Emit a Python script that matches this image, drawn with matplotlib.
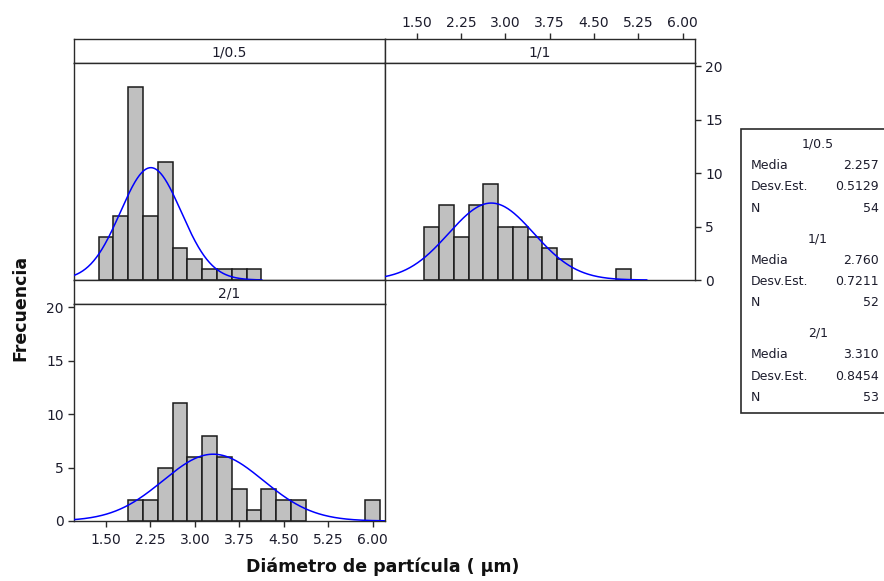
import numpy as np
import matplotlib
matplotlib.use("Agg")
import matplotlib.pyplot as plt

# Bin centres and counts per group (bin width 0.25 µm)
bin_width = 0.25
centers_05 = [1.50, 1.75, 2.00, 2.25, 2.50, 2.75, 3.00, 3.25, 3.50, 3.75, 4.00]
counts_05 = [4, 6, 18, 6, 11, 3, 2, 1, 1, 1, 1]

centers_11 = [1.75, 2.00, 2.25, 2.50, 2.75, 3.00, 3.25, 3.50, 3.75, 4.00, 5.00]
counts_11 = [5, 7, 4, 7, 9, 5, 5, 4, 3, 2, 1]

centers_21 = [2.00, 2.25, 2.50, 2.75, 3.00, 3.25, 3.50, 3.75, 4.00, 4.25, 4.50, 4.75, 6.00]
counts_21 = [2, 2, 5, 11, 6, 8, 6, 3, 1, 3, 2, 2, 2]

groups = ["1/0.5", "1/1", "2/1"]
means = [2.257, 2.760, 3.310]
sds = [0.5129, 0.7211, 0.8454]
ns = [54, 52, 53]

x_ticks = [1.50, 2.25, 3.00, 3.75, 4.50, 5.25, 6.00]
x_ticklabels = ["1.50", "2.25", "3.00", "3.75", "4.50", "5.25", "6.00"]
y_ticks = [0, 5, 10, 15, 20]

W, H = 884, 581
fig = plt.figure(figsize=(W / 100, H / 100), dpi=100)
plt.rcParams["font.family"] = ["DejaVu Sans"]

XLIM = (0.96, 6.21)
YLIM = (0, 20.31)
FRAME = "#2a2a2a"
TXT = "#1c1c2c"
LW = 1.0


def px_axes(x0, y0, x1, y1):
    return fig.add_axes([x0 / W, 1 - y1 / H, (x1 - x0) / W, (y1 - y0) / H])


def style_frame(ax):
    for s in ax.spines.values():
        s.set_color(FRAME)
        s.set_linewidth(LW)
    ax.tick_params(colors=FRAME, labelcolor=TXT, labelsize=10,
                   length=4.5, width=LW, direction="out")


def strip(x0, y0, x1, y1, label):
    sax = px_axes(x0, y0, x1, y1)
    sax.set_xlim(*XLIM)
    sax.set_ylim(0, 1)
    sax.set_yticks([])
    sax.set_xticks([])
    style_frame(sax)
    sax.text(0.5, 0.45, label, transform=sax.transAxes, ha="center",
             va="center", fontsize=10, color=TXT)
    return sax


def panel(x0, y0, x1, y1, centers, counts, mean, sd, n):
    ax = px_axes(x0, y0, x1, y1)
    ax.bar(centers, counts, width=bin_width, color="#c0c0c0",
           edgecolor="#1a1a1a", linewidth=1.1, zorder=2)
    xs = np.linspace(mean - 3.65 * sd, mean + 3.65 * sd, 400)
    ys = n * bin_width / (sd * np.sqrt(2 * np.pi)) * np.exp(-0.5 * ((xs - mean) / sd) ** 2)
    ax.plot(xs, ys, color="#0000ff", linewidth=1.1, zorder=3)
    ax.set_xlim(*XLIM)
    ax.set_ylim(*YLIM)
    ax.set_xticks([])
    ax.set_yticks([])
    style_frame(ax)
    return ax


L0, L1, R1 = 74, 385, 695
T_strip, T_top, T_bot = 39, 62.7, 280
B_strip, B_bot = 304, 521

# top-left: 1/0.5
strip(L0, T_strip, L1, T_top, groups[0])
panel(L0, T_top, L1, T_bot, centers_05, counts_05, means[0], sds[0], ns[0])

# top-right: 1/1 (x ticks above its strip, y ticks on the right)
s11 = strip(L1, T_strip, R1, T_top, groups[1])
s11.xaxis.set_ticks_position("top")
s11.set_xticks(x_ticks)
s11.set_xticklabels(x_ticklabels)
s11.tick_params(axis="x", pad=2)
a11 = panel(L1, T_top, R1, T_bot, centers_11, counts_11, means[1], sds[1], ns[1])
a11.yaxis.set_ticks_position("right")
a11.set_yticks(y_ticks)
a11.tick_params(axis="y", pad=3)

# bottom-left: 2/1
strip(L0, T_bot, L1, B_strip, groups[2])
a21 = panel(L0, B_strip, L1, B_bot, centers_21, counts_21, means[2], sds[2], ns[2])
a21.set_xticks(x_ticks)
a21.set_xticklabels(x_ticklabels)
a21.set_yticks(y_ticks)
a21.tick_params(axis="x", pad=4)
a21.tick_params(axis="y", pad=3)

# axis titles
fig.text(383 / W, 1 - 567 / H, "Diámetro de partícula ( µm)", ha="center",
         va="center", fontsize=12.5, fontweight="bold", color="#111111")
fig.text(20 / W, 1 - 308 / H, "Frecuencia", ha="center", va="center",
         rotation=90, fontsize=12.5, fontweight="bold", color="#111111")

# summary statistics box
box_l, box_t, box_b = 741, 129, 413
fig.patches.append(plt.Rectangle((box_l / W, 1 - box_b / H), (900 - box_l) / W,
                                 (box_b - box_t) / H, transform=fig.transFigure,
                                 facecolor="white", edgecolor=FRAME, linewidth=1.2))
group_y = [144, 238.5, 333]
row_dy = 21.5
for g, gy, m, s, n in zip(groups, group_y, means, sds, ns):
    fig.text(818 / W, 1 - gy / H, g, ha="center", va="center", fontsize=9, color=TXT)
    rows = [("Media", f"{m:.3f}"), ("Desv.Est.", f"{s:.4f}"), ("N", f"{n}")]
    for i, (lab, val) in enumerate(rows):
        yy = 1 - (gy + row_dy * (i + 1)) / H
        fig.text(751 / W, yy, lab, ha="left", va="center", fontsize=9, color=TXT)
        fig.text(879 / W, yy, val, ha="right", va="center", fontsize=9, color=TXT)

fig.savefig("out.png", dpi=100, facecolor="white")
